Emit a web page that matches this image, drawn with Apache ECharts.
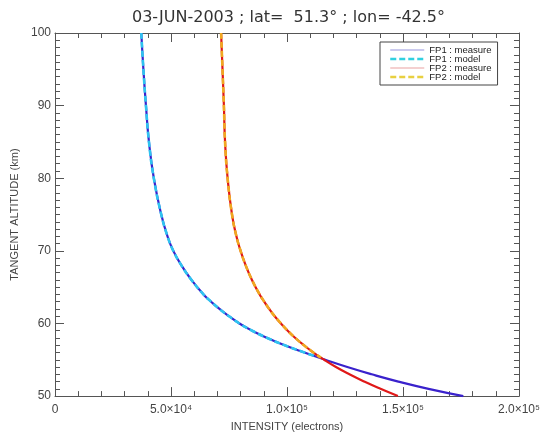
<!DOCTYPE html>
<html>
<head>
<meta charset="utf-8">
<script src="https://cdn.jsdelivr.net/npm/echarts@6/dist/echarts.min.js"></script>
<style>
html,body{margin:0;padding:0;background:#fff;}
#chart{width:543px;height:437px;}
</style>
</head>
<body>
<div id="chart"></div>
<script>
// ---- data ----
var titleText = '03-JUN-2003 ; lat=  51.3\u00b0 ; lon= -42.5\u00b0';
var seriesNames = ['FP1 : measure', 'FP1 : model', 'FP2 : measure', 'FP2 : model'];
var xTickLabels = {0: '0', 50000: '5.0\u00d710\u2074', 100000: '1.0\u00d710\u2075', 150000: '1.5\u00d710\u2075', 200000: '2.0\u00d710\u2075'};

// altitudes (km) and intensities (electrons)
var altMeasure = [100, 95, 90, 85, 80, 75, 72, 70, 68, 66, 64, 63, 62, 61, 60, 59, 58, 57, 56, 55, 54, 53, 52, 51, 50];
var fp1Measure = [37200, 38100, 39200, 40500, 42600, 45800, 48500, 51000, 54500, 58800, 64000, 67300, 70900, 75000, 79500, 85000, 91500, 99000, 107500, 116500, 126000, 136500, 148000, 161000, 176000];
var fp2Measure = [71600, 72200, 72800, 73300, 74400, 76300, 78200, 80000, 82200, 84900, 88200, 90200, 92300, 94700, 97400, 100300, 103600, 107300, 111400, 116000, 121100, 126900, 133300, 140300, 147800];

var altModel1 = [100, 95, 90, 85, 80, 75, 72, 70, 68, 66, 64, 63, 62, 61, 60, 59, 58, 57, 56, 55.5];
var fp1Model  = [37200, 38100, 39200, 40500, 42600, 45800, 48500, 51000, 54500, 58800, 64000, 67300, 70900, 75000, 79500, 85000, 91500, 99000, 107500, 112000];
var altModel2 = [100, 95, 90, 85, 80, 75, 72, 70, 68, 66, 64, 63, 62, 61, 60, 59, 58, 57, 56, 55.3];
var fp2Model  = [71600, 72200, 72800, 73300, 74400, 76300, 78200, 80000, 82200, 84900, 88200, 90200, 92300, 94700, 97400, 100300, 103600, 107300, 111400, 114600];

function pairs(xs, ys) { return xs.map(function (x, i) { return [x, ys[i]]; }); }

var chart = echarts.init(document.getElementById('chart'), null, {renderer: 'canvas'});
var axisCol = '#555';
var font = 'Liberation Sans, Arial, sans-serif';

function xAx(pos, labels) {
  return {
    type: 'value', position: pos, min: 0, max: 200000, interval: 50000,
    axisLine: {show: true, onZero: false, lineStyle: {color: axisCol, width: 1}},
    axisTick: {show: true, inside: true, length: 9, lineStyle: {color: axisCol}},
    minorTick: {show: true, splitNumber: 5, length: 5, lineStyle: {color: axisCol}},
    splitLine: {show: false}, minorSplitLine: {show: false},
    axisLabel: labels ? {show: true, margin: 8, fontSize: 12, color: '#444', fontFamily: font,
      formatter: function (v) { return xTickLabels[v] !== undefined ? xTickLabels[v] : ''; }} : {show: false},
    name: labels ? 'INTENSITY (electrons)' : '', nameLocation: 'middle', nameGap: 22,
    nameTextStyle: {fontSize: 11, color: '#444', fontFamily: font}
  };
}
function yAx(pos, labels) {
  return {
    type: 'value', position: pos, min: 50, max: 100, interval: 10,
    axisLine: {show: true, onZero: false, lineStyle: {color: axisCol, width: 1}},
    axisTick: {show: true, inside: true, length: 9, lineStyle: {color: axisCol}},
    minorTick: {show: true, splitNumber: 10, length: 5, lineStyle: {color: axisCol}},
    splitLine: {show: false}, minorSplitLine: {show: false},
    axisLabel: labels ? {show: true, margin: 4, fontSize: 12, color: '#444', fontFamily: font} : {show: false},
    name: labels ? 'TANGENT ALTITUDE (km)' : '', nameLocation: 'middle', nameGap: 29, nameRotate: 90,
    nameTextStyle: {fontSize: 11, color: '#444', fontFamily: font}
  };
}

var legendIconStyle = {opacity: 0};

var option = {
  animation: false,
  backgroundColor: '#fff',
  title: {text: titleText, left: 127, top: 5,
    textStyle: {fontSize: 16, fontWeight: 'normal', color: '#333', fontFamily: 'DejaVu Sans, sans-serif'}},
  grid: {left: 55, right: 22, top: 33, bottom: 32, containLabel: false},
  xAxis: [xAx('bottom', true), xAx('top', false)],
  yAxis: [yAx('left', true), yAx('right', false)],
  legend: {
    orient: 'vertical', left: 380, top: 42,
    backgroundColor: '#fff', borderColor: '#444', borderWidth: 1, borderRadius: 0,
    padding: [3, 6, 3, 9], itemGap: -1, itemWidth: 34, itemHeight: 8,
    textStyle: {fontSize: 9.5, color: '#222', fontFamily: font},
    data: [
      {name: seriesNames[0], lineStyle: {color: '#b8b8e8', width: 1.5}, itemStyle: legendIconStyle},
      {name: seriesNames[1], lineStyle: {color: '#30d0e0', width: 2.5}, itemStyle: legendIconStyle},
      {name: seriesNames[2], lineStyle: {color: '#f0c0c0', width: 1.5}, itemStyle: legendIconStyle},
      {name: seriesNames[3], lineStyle: {color: '#e8d040', width: 2.5}, itemStyle: legendIconStyle}
    ]
  },
  series: [
    {name: seriesNames[0], type: 'line', data: pairs(fp1Measure, altMeasure), showSymbol: false, symbol: 'none',
      smooth: 0.5, lineStyle: {color: '#3a22cc', width: 2.2}, itemStyle: {color: '#3a22cc'}, z: 2},
    {name: seriesNames[1], type: 'line', data: pairs(fp1Model, altModel1), showSymbol: false, symbol: 'none',
      smooth: 0.5, lineStyle: {color: '#2ec4f0', width: 2.6, type: [6, 3]}, itemStyle: {color: '#2ec4f0'}, z: 3},
    {name: seriesNames[2], type: 'line', data: pairs(fp2Measure, altMeasure), showSymbol: false, symbol: 'none',
      smooth: 0.5, lineStyle: {color: '#e01818', width: 2.2}, itemStyle: {color: '#e01818'}, z: 4},
    {name: seriesNames[3], type: 'line', data: pairs(fp2Model, altModel2), showSymbol: false, symbol: 'none',
      smooth: 0.5, lineStyle: {color: '#f0a820', width: 2.6, type: [6, 3]}, itemStyle: {color: '#f0a820'}, z: 5}
  ]
};
chart.setOption(option);
</script>
</body>
</html>
